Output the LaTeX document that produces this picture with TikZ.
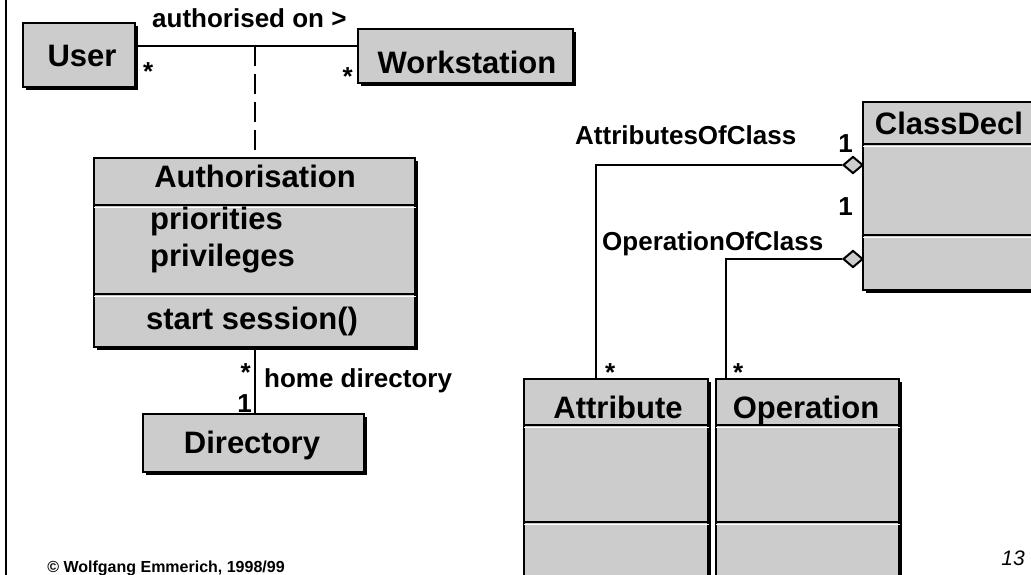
\documentclass[tikz,border=0pt]{standalone}
\usepackage{fontspec}
\setmainfont{Liberation Sans}
\usepackage{tikz}
\usetikzlibrary{shapes.geometric,shadows,positioning}

\definecolor{boxgray}{HTML}{CCCCCC}
\newcommand{\clsfont}{\fontsize{31}{37}\selectfont\bfseries}
\newcommand{\lblfont}{\fontsize{26}{31}\selectfont\bfseries}

\tikzset{
	classbox/.style={draw,line width=2pt,fill=boxgray,inner sep=0pt,
		general shadow={fill=black,shadow xshift=3pt,shadow yshift=-3pt}},
	clsname/.style={anchor=base,inner sep=0pt,font=\clsfont},
	lbl/.style={inner sep=0pt,font=\lblfont},
	link/.style={line width=2pt},
	sepline/.style={line width=2pt},
	hilite/.style={white,line width=1.2pt},
	aggr/.style={diamond,draw,line width=2pt,fill=boxgray,inner sep=0pt,
		minimum width=20pt,minimum height=17pt}
}

\begin{document}
\begin{tikzpicture}[x=1pt,y=-1pt]

	\useasboundingbox (0,0) rectangle (1031,575);
	\draw[line width=2pt] (6,0) -- (6,575);

	% classes
	\node[classbox,minimum width=112pt,minimum height=64pt] (user) at (79,55) {};
	\node[classbox,minimum width=215pt,minimum height=54pt] (work) at (465.5,56) {};
	\node[classbox,minimum width=321pt,minimum height=189pt] (auth) at (254.5,252.5) {};
	\node[classbox,minimum width=221pt,minimum height=58pt] (dir) at (253.5,443) {};
	\node[classbox,minimum width=173pt,minimum height=188pt] (cls) at (949.5,196) {};
	\node[classbox,minimum width=184pt,minimum height=261pt] (attr) at (616,509.5) {};
	\node[classbox,minimum width=183pt,minimum height=261pt] (op) at (807.5,509.5) {};

	\foreach \b/\y in {auth/205,auth/294,cls/144,cls/235,attr/425,attr/522,op/425,op/522}{
		\draw[sepline] (\b.west |- 0,\y) -- (\b.east |- 0,\y);
		\draw[hilite] ([xshift=1pt]\b.west |- 0,\y+2.5) -- (\b.east |- 0,\y+2.5);
	}

	\node[clsname] (username) at (82,67) {User};
	\node[clsname] (workname) at (467,74) {Workstation};
	\node[clsname] (authname) at (255,187) {Authorisation};
	\node[clsname,anchor=base west] (authprio) at (150,229) {priorities};
	\node[clsname,anchor=base west] (authpriv) at (150,266) {privileges};
	\node[clsname] (authop) at (252,329) {start session()};
	\node[clsname] (dirname) at (252,453) {Directory};
	\node[clsname] (clsname) at (949,135) {ClassDecl};
	\node[clsname] (attrname) at (618,418) {Attribute};
	\node[clsname] (opname) at (806,418) {Operation};

	% associations
	\draw[link] ([yshift=9pt]user.east) -- ([yshift=9pt]user.east -| work.west);
	\coordinate (assocmid) at (255,46);
	\draw[link,dash pattern=on 20pt off 8pt] (assocmid) -- (assocmid |- auth.north);
	\draw[link] (auth.south) -- (auth.south |- dir.north);

	\node[aggr] (attrdia) at (853,165) {};
	\node[aggr] (opdia) at (853,259) {};
	\coordinate (attrend) at (596,379);
	\coordinate (opend) at (726,379);
	\draw[link] (attrdia.west) -| (attrend);
	\draw[link] (opdia.west) -| (opend);

	\node[lbl,anchor=base west] (assoclbl) at (152,28) {authorised on >};
	\node[lbl,anchor=base west] (usermult) at (143,81) {*};
	\node[lbl,anchor=base east] (workmult) at (353,86) {*};
	\node[lbl,anchor=base west] (homelbl) at (264,387) {home directory};
	\node[lbl,anchor=base east] (authmult) at (251,381) {*};
	\node[lbl,anchor=base east] (dirmult) at (252,412) {1};
	\node[lbl,anchor=base west] (attrlbl) at (575,145) {AttributesOfClass};
	\node[lbl,anchor=base east] (attrone) at (853,153) {1};
	\node[lbl,anchor=base east] (opone) at (853,215) {1};
	\node[lbl,anchor=base west] (oplbl) at (602,250) {OperationOfClass};
	\node[lbl,anchor=base west] (attrmult) at (605,381) {*};
	\node[lbl,anchor=base west] (opmult) at (733,381) {*};

	\node[anchor=base,inner sep=0pt,font=\fontsize{16}{19}\selectfont\bfseries] (copyright) at (166,572) {\textcopyright{} Wolfgang Emmerich, 1998/99};
	\node[anchor=base east,inner sep=0pt,font=\fontsize{21}{25}\selectfont\itshape] (pagenum) at (1025,565) {13};

\end{tikzpicture}
\end{document}
